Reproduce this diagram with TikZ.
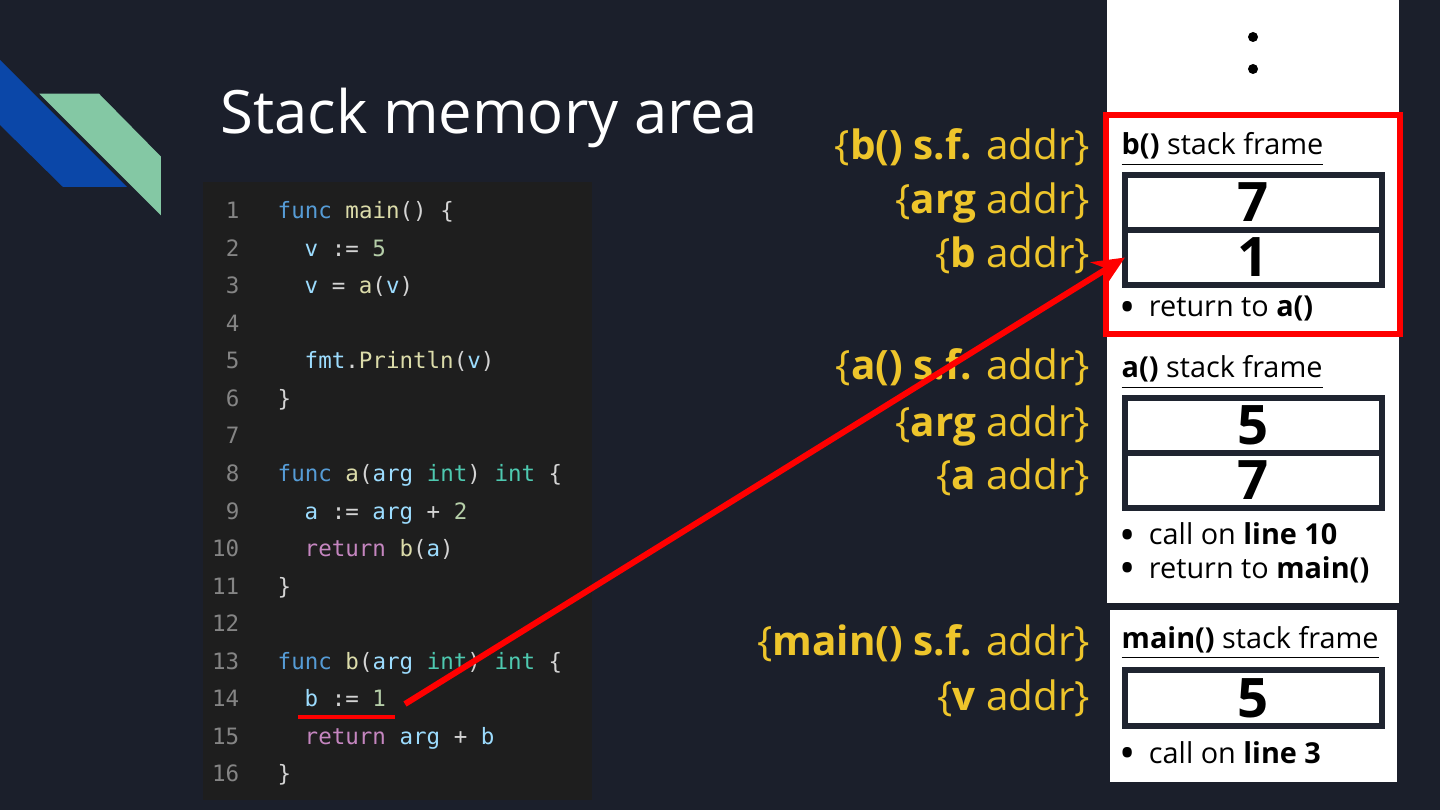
\documentclass[tikz,border=0pt]{standalone}
\usepackage{fontspec}
\setmainfont{Open Sans}
\setmonofont{DejaVu Sans Mono}
\usetikzlibrary{positioning, arrows.meta}
\definecolor{fondo}{HTML}{1B1F2B}
\definecolor{panel}{HTML}{1E1E1E}
\definecolor{gutter}{HTML}{858585}
\definecolor{punct}{HTML}{D4D4D4}
\definecolor{keyword}{HTML}{569CD6}
\definecolor{funcname}{HTML}{DCDCAA}
\definecolor{varname}{HTML}{9CDCFE}
\definecolor{numlit}{HTML}{B5CEA8}
\definecolor{typename}{HTML}{4EC9B0}
\definecolor{ctrl}{HTML}{C586C0}
\definecolor{amarillo}{HTML}{EEC52B}
\definecolor{celda}{HTML}{1F2430}
\definecolor{alerta}{HTML}{FF0000}
\definecolor{azul}{HTML}{0B47A8}
\definecolor{verde}{HTML}{84C8A4}
\newcommand{\kw}[1]{{\color{keyword}#1}}
\newcommand{\fn}[1]{{\color{funcname}#1}}
\newcommand{\vr}[1]{{\color{varname}#1}}
\newcommand{\nm}[1]{{\color{numlit}#1}}
\newcommand{\ty}[1]{{\color{typename}#1}}
\newcommand{\rt}[1]{{\color{ctrl}#1}}
\newcommand{\punto}{\raisebox{-0.35ex}{\scalebox{1.5}{\textbullet}}\hspace{0.45em}}

\begin{document}
\begin{tikzpicture}[x=0.01cm, y=-0.01cm,
		lineno/.style={anchor=base east, inner sep=0pt, text=gutter, font=\ttfamily\fontsize{6.4}{8}\selectfont},
		codeline/.style={anchor=base west, inner sep=0pt, text=punct, font=\ttfamily\fontsize{6.4}{8}\selectfont},
		addrlabel/.style={anchor=base east, inner sep=0pt, text=amarillo, font=\fontsize{11.5}{13}\selectfont},
		frametitle/.style={anchor=base west, inner sep=0pt, font=\fontsize{8.2}{10}\selectfont},
		note/.style={anchor=base west, inner sep=0pt, align=left, font=\fontsize{8.2}{9.4}\selectfont},
		cell/.style={draw=celda, line width=0.06cm, fill=white, minimum width=2.57cm, minimum height=0.55cm,
		             inner sep=0pt, outer sep=0pt, font=\bfseries\fontsize{15.5}{18}\selectfont},
		redline/.style={draw=alerta, line width=0.06cm}]
	\useasboundingbox (0,0) rectangle (1440,810);
	\fill[fondo] (0,0) rectangle (1440,810);
	% logo
	\fill[azul] (0,60) -- (127,187) -- (63,187) -- (0,125) -- cycle;
	\filldraw[fill=verde, draw=fondo, line width=1pt] (35,92) -- (100,92) -- (163,156) -- (163,220) -- cycle;
	\node[anchor=base west, inner sep=0pt, text=white, font=\fontsize{17}{21}\selectfont] (title) at (220,134) {Stack memory area};
	% code
	\fill[panel] (203,182) rectangle (592,800);
	\foreach \n in {1,...,16}
		\node[lineno] (ln\n) at (240,{219+(\n-1)*37.5}) {\n};
	\node[codeline] (code1) at (277,219) {\kw{func} \fn{main}() \{};
	\node[codeline] (code2) at (304,256.5) {\vr{v} := \nm{5}};
	\node[codeline] (code3) at (304,294) {\vr{v} = \fn{a}(\vr{v})};
	\node[codeline] (code5) at (304,369) {\vr{fmt}.\fn{Println}(\vr{v})};
	\node[codeline] (code6) at (277,406.5) {\}};
	\node[codeline] (code8) at (277,481.5) {\kw{func} \fn{a}(\vr{arg} \ty{int}) \ty{int} \{};
	\node[codeline] (code9) at (304,519) {\vr{a} := \vr{arg} + \nm{2}};
	\node[codeline] (code10) at (304,556.5) {\rt{return} \fn{b}(\vr{a})};
	\node[codeline] (code11) at (277,594) {\}};
	\node[codeline] (code13) at (277,669) {\kw{func} \fn{b}(\vr{arg} \ty{int}) \ty{int} \{};
	\node[codeline] (code14) at (304,706.5) {\vr{b} := \nm{1}};
	\node[codeline] (code15) at (304,744) {\rt{return} \vr{arg} + \vr{b}};
	\node[codeline] (code16) at (277,781.5) {\}};
	% stack column
	\fill[white] (1107,0) rectangle (1399,603);
	\fill[white] (1110,610) rectangle (1397,782);
	\fill[black] (1253,37) circle (5);
	\fill[black] (1253,69) circle (5);
	% b() frame
	\node[frametitle] (btitle) at (1121,155) {\underline{\textbf{b()} stack frame}};
	\node[cell] (barg) at (1253.5,202.5) {7};
	\node[cell, below=0pt of barg] (bval) {1};
	\node[note] (bnote) at (1119,317) {\punto return to \textbf{a()}};
	\draw[redline] (1106,115) rectangle (1400,334);
	% a() frame
	\node[frametitle] (atitle) at (1121,378) {\underline{\textbf{a()} stack frame}};
	\node[cell] (aarg) at (1253.5,425.5) {5};
	\node[cell, below=0pt of aarg] (aval) {7};
	\node[note] (anotes) at (1119,578) {\punto call on \textbf{line 10}\\ \punto return to \textbf{main()}};
	% main() frame
	\node[frametitle] (mtitle) at (1121,648) {\underline{\textbf{main()} stack frame}};
	\node[cell] (mval) at (1253.5,698) {5};
	\node[note] (mnote) at (1119,763) {\punto call on \textbf{line 3}};
	% addresses
	\node[addrlabel] (bsf) at (1091,160) {\{\textbf{b() s.f.} addr\}};
	\node[addrlabel] (bargaddr) at (1091,214) {\{\textbf{arg} addr\}};
	\node[addrlabel] (bvaladdr) at (1091,268) {\{\textbf{b} addr\}};
	\node[addrlabel] (asf) at (1091,380) {\{\textbf{a() s.f.} addr\}};
	\node[addrlabel] (aargaddr) at (1091,437) {\{\textbf{arg} addr\}};
	\node[addrlabel] (avaladdr) at (1091,490) {\{\textbf{a} addr\}};
	\node[addrlabel] (msf) at (1091,655) {\{\textbf{main() s.f.} addr\}};
	\node[addrlabel] (mvaladdr) at (1091,710) {\{\textbf{v} addr\}};
	% pointer from line 14
	\coordinate (ulstart) at (298,717);
	\coordinate (ulend) at (395,717);
	\coordinate (tail) at (405,704);
	\draw[draw=alerta, line width=0.045cm] (ulstart) -- (ulend);
	\draw[redline, -{Stealth[length=9pt, width=8pt]}] (tail) -- (bval.west);
\end{tikzpicture}
\end{document}
